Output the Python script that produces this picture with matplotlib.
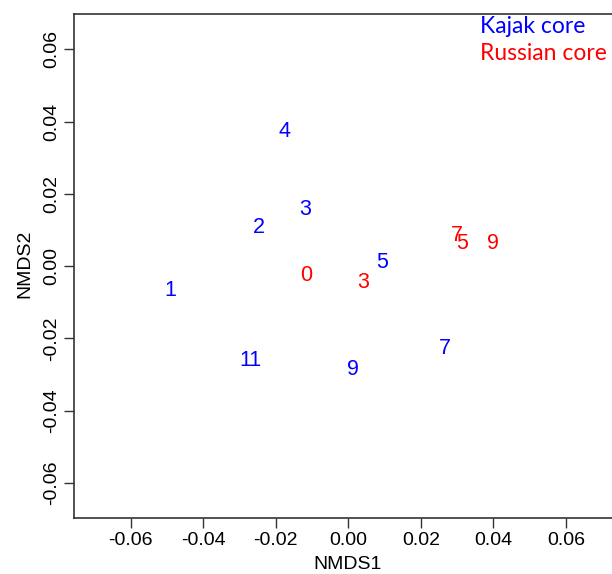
import matplotlib
matplotlib.use("Agg")
import matplotlib.pyplot as plt

# Kajak core (blue)
kajak_labels = ["1", "2", "3", "4", "5", "7", "9", "11"]
kajak_x = [-0.0492, -0.0246, -0.0120, -0.0177, 0.0094, 0.0267, 0.0012, -0.0271]
kajak_y = [-0.0066, 0.0108, 0.0156, 0.0374, 0.0011, -0.0227, -0.0287, -0.0262]

# Russian core (red)
russian_labels = ["0", "3", "7", "5", "9"]
russian_x = [-0.0115, 0.0041, 0.0300, 0.0313, 0.0398]
russian_y = [-0.0026, -0.0046, 0.0086, 0.0063, 0.0063]

xticks = [-0.06, -0.04, -0.02, 0.00, 0.02, 0.04, 0.06]
yticks = [-0.06, -0.04, -0.02, 0.00, 0.02, 0.04, 0.06]
legend_names = ["Kajak core", "Russian core"]

W, H = 612, 574
fig = plt.figure(figsize=(W / 100, H / 100), dpi=100)
plt.rcParams['font.family'] = ['Liberation Sans', 'DejaVu Sans']

left, right, bottom, top = 74.3, 612.0, 518.3, 14.3
ax = fig.add_axes([left / W, 1 - bottom / H, (right - left) / W, (bottom - top) / H])

for lab, x, y in zip(kajak_labels, kajak_x, kajak_y):
    ax.text(x, y, lab, color="#0000ff", ha="center", va="center", fontsize=15.5)
for lab, x, y in zip(russian_labels, russian_x, russian_y):
    ax.text(x, y, lab, color="#ff0000", ha="center", va="center", fontsize=15.5)

ax.set_xlim(-0.07556, 0.0727)
ax.set_ylim(-0.06976, 0.0697)
ax.set_xticks(xticks)
ax.set_yticks(yticks)
ax.set_xticklabels([f"{v:.2f}" for v in xticks])
ax.set_yticklabels([f"{v:.2f}" for v in yticks])
ax.tick_params(direction="out", length=7, width=1, colors="#333333",
               labelcolor="black", labelsize=14)
ax.tick_params(axis="x", pad=3)
ax.tick_params(axis="y", pad=3)
plt.setp(ax.get_yticklabels(), rotation=90, va="center", ha="right")
for s in ["left", "bottom", "top"]:
    ax.spines[s].set_color("#333333")
    ax.spines[s].set_linewidth(1.2)
ax.spines["right"].set_visible(False)

fig.text(347.5 / W, 1 - 564.7 / H, "NMDS1", ha="center", va="center", fontsize=14)
fig.text(25 / W, 1 - 264 / H, "NMDS2", ha="center", va="center", fontsize=14, rotation=90)

fig.text(480 / W, 1 - 26.7 / H, legend_names[0], color="#0000ff", ha="left", va="center",
         fontsize=16.5, family=["Lato", "DejaVu Sans"])
fig.text(480 / W, 1 - 53.3 / H, legend_names[1], color="#ff0000", ha="left", va="center",
         fontsize=16.5, family=["Lato", "DejaVu Sans"])

fig.savefig("out.png", dpi=100)
